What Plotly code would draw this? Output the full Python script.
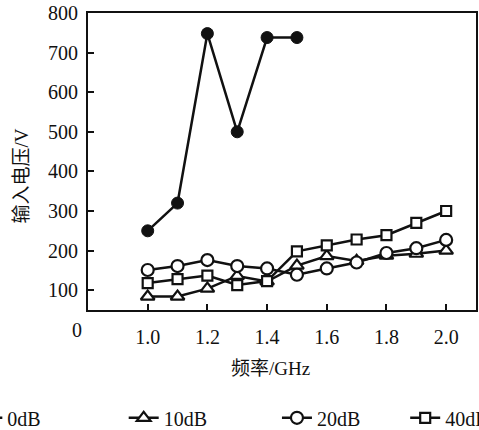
import plotly.graph_objects as go

# ---- data ----
freq_0dB = [1.0, 1.1, 1.2, 1.3, 1.4, 1.5]
volt_0dB = [250, 320, 748, 500, 738, 738]

freq = [1.0, 1.1, 1.2, 1.3, 1.4, 1.5, 1.6, 1.7, 1.8, 1.9, 2.0]
volt_10dB = [84, 84, 104, 136, 122, 162, 186, 174, 187, 192, 200]
volt_20dB = [151, 161, 176, 161, 155, 139, 155, 170, 194, 206, 227]
volt_40dB = [118, 128, 137, 113, 123, 198, 213, 228, 239, 270, 300]

x_ticks = [1.0, 1.2, 1.4, 1.6, 1.8, 2.0]
x_ticklabels = ["1.0", "1.2", "1.4", "1.6", "1.8", "2.0"]
y_ticks = [100, 200, 300, 400, 500, 600, 700, 800]

series_names = ["0dB", "10dB", "20dB", "40dB"]

FONT = "Liberation Serif, Noto Sans CJK SC, serif"
BLACK = "#111111"

fig = go.Figure()

line_style = dict(color=BLACK, width=2.5)

fig.add_trace(go.Scatter(
    x=freq_0dB, y=volt_0dB, name=series_names[0], mode="lines+markers",
    line=line_style, legend="legend", showlegend=True,
    marker=dict(symbol="circle", size=12, color=BLACK, line=dict(color=BLACK, width=1))))
fig.add_trace(go.Scatter(
    x=freq, y=volt_10dB, name=series_names[1], mode="lines+markers",
    line=line_style, legend="legend2",
    marker=dict(symbol="triangle-up", size=12, color="white", line=dict(color=BLACK, width=2.2))))
fig.add_trace(go.Scatter(
    x=freq, y=volt_20dB, name=series_names[2], mode="lines+markers",
    line=line_style, legend="legend3",
    marker=dict(symbol="circle", size=12, color="white", line=dict(color=BLACK, width=2.2))))
fig.add_trace(go.Scatter(
    x=freq, y=volt_40dB, name=series_names[3], mode="lines+markers",
    line=line_style, legend="legend4",
    marker=dict(symbol="square", size=10, color="white", line=dict(color=BLACK, width=2.2))))

legend_common = dict(orientation="h", yanchor="middle", y=-0.363, xanchor="left",
                     font=dict(family=FONT, size=20, color=BLACK),
                     bgcolor="rgba(0,0,0,0)", borderwidth=0)

fig.update_layout(
    width=479, height=430,
    showlegend=True,
    margin=dict(l=88, r=3, t=13, b=120, autoexpand=False),
    paper_bgcolor="white", plot_bgcolor="white",
    font=dict(family=FONT, size=20, color=BLACK),
    legend=dict(x=-0.311, **legend_common),
    legend2=dict(x=0.092, **legend_common),
    legend3=dict(x=0.487, **legend_common),
    legend4=dict(x=0.8175, **legend_common),
    xaxis=dict(range=[0.8, 2.1], tickvals=x_ticks, ticktext=x_ticklabels,
               ticks="inside", ticklen=6, tickwidth=1.5, tickcolor=BLACK,
               showline=True, linecolor=BLACK, linewidth=2, mirror=True,
               showgrid=False, zeroline=False, ticklabelstandoff=8,
               tickfont=dict(family=FONT, size=20, color=BLACK)),
    yaxis=dict(range=[50, 800], tickvals=y_ticks,
               ticks="inside", ticklen=6, tickwidth=1.5, tickcolor=BLACK,
               showline=True, linecolor=BLACK, linewidth=2, mirror=True,
               showgrid=False, zeroline=False, ticklabelstandoff=4,
               tickfont=dict(family=FONT, size=20, color=BLACK)),
    annotations=[
        dict(text="频率/GHz", xref="paper", yref="paper", x=0.470, y=-0.198,
             showarrow=False, xanchor="center", yanchor="middle",
             font=dict(family=FONT, size=19, color=BLACK)),
        dict(text="输入电压/V", xref="paper", yref="paper", x=-0.171, y=0.452,
             showarrow=False, xanchor="center", yanchor="middle", textangle=-90,
             font=dict(family=FONT, size=19, color=BLACK)),
        dict(text="0", xref="paper", yref="paper", x=-0.029, y=-0.067,
             showarrow=False, xanchor="center", yanchor="middle",
             font=dict(family=FONT, size=20, color=BLACK)),
    ],
)

fig.write_html("out.html", config={"displayModeBar": False},
               post_script="document.body.style.margin='0px';document.body.style.overflow='hidden';")
